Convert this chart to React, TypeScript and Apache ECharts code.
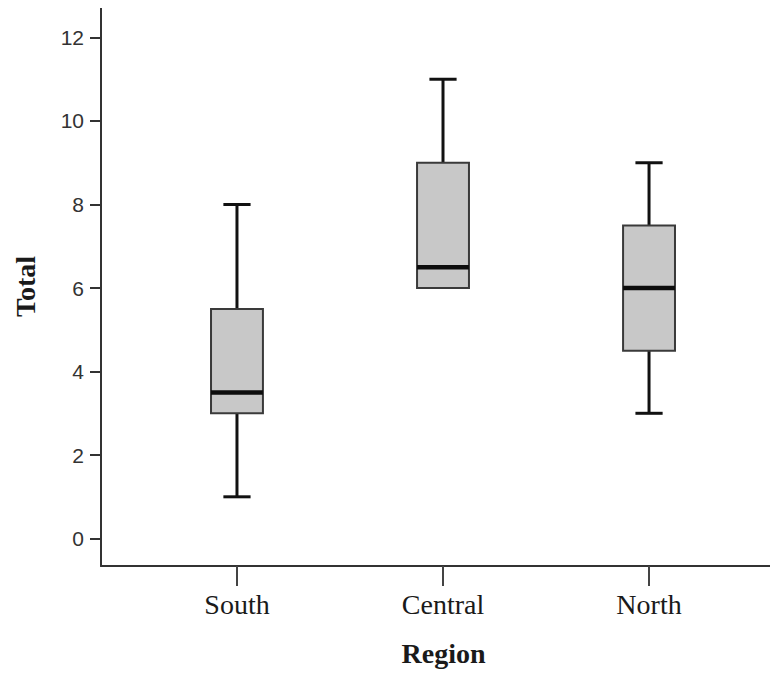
import React, { useEffect, useRef } from "react";
import * as echarts from "echarts";

const categories = ["South", "Central", "North"];
const minValues = [1, 6, 3];
const q1Values = [3, 6, 4.5];
const medianValues = [3.5, 6.5, 6];
const q3Values = [5.5, 9, 7.5];
const maxValues = [8, 11, 9];
const yTickValues = [0, 2, 4, 6, 8, 10, 12];
const xTickValues = [0, 1, 2];

export default function App() {
  const ref = useRef<HTMLDivElement>(null);
  useEffect(() => {
    if (!ref.current) return;
    const chart = echarts.init(ref.current, null, { renderer: "svg" });
    const data = categories.map((_, i) => [
      i,
      minValues[i],
      q1Values[i],
      medianValues[i],
      q3Values[i],
      maxValues[i],
    ]);
    const BOX_W = 0.252;
    const CAP_W = 0.132;
    const xMin = -0.66;
    const xMax = 2.626;
    const option: any = {
      animation: false,
      backgroundColor: "#ffffff",
      grid: { left: 101, top: 7, right: 0, bottom: 111 },
      xAxis: [
        {
          type: "value",
          min: xMin,
          max: xMax,
          splitLine: { show: false },
          axisLine: { show: true, onZero: false, lineStyle: { color: "#333", width: 2 } },
          axisTick: {
            show: true,
            customValues: xTickValues,
            length: 20,
            lineStyle: { color: "#444", width: 2 },
          },
          axisLabel: {
            customValues: xTickValues,
            formatter: (v: number) => categories[Math.round(v)] ?? "",
            fontFamily: "Liberation Serif",
            fontSize: 28,
            color: "#1a1a1a",
            margin: 24,
          },
          name: "Region",
          nameLocation: "middle",
          nameGap: 73,
          nameTextStyle: {
            fontFamily: "Liberation Serif",
            fontWeight: "bold",
            fontSize: 28,
            color: "#1a1a1a",
            padding: [0, 0, 0, 8],
          },
        },
        {
          type: "value",
          position: "top",
          min: xMin,
          max: xMax,
          splitLine: { show: false },
          axisLine: { show: true, onZero: false, lineStyle: { color: "#333", width: 2 } },
          axisTick: { show: false },
          axisLabel: { show: false },
        },
      ],
      yAxis: {
        type: "value",
        min: -0.657,
        max: 12.73,
        splitLine: { show: false },
        axisLine: { show: true, onZero: false, lineStyle: { color: "#333", width: 2 } },
        axisTick: {
          show: true,
          customValues: yTickValues,
          length: 11,
          lineStyle: { color: "#333", width: 2 },
        },
        axisLabel: {
          customValues: yTickValues,
          fontFamily: "Liberation Sans",
          fontSize: 21,
          color: "#333",
          margin: 17,
        },
        name: "Total",
        nameLocation: "middle",
        nameRotate: 90,
        nameGap: 62,
        nameTextStyle: {
          fontFamily: "Liberation Serif",
          fontWeight: "bold",
          fontSize: 28,
          color: "#1a1a1a",
        },
      },
      series: [
        {
          type: "custom",
          xAxisIndex: 0,
          yAxisIndex: 0,
          data,
          renderItem: (params: any, api: any) => {
            const x = api.value(0);
            const lo = api.coord([x, api.value(1)]);
            const q1 = api.coord([x, api.value(2)]);
            const md = api.coord([x, api.value(3)]);
            const q3 = api.coord([x, api.value(4)]);
            const hi = api.coord([x, api.value(5)]);
            const bw = api.size([BOX_W, 0])[0];
            const cw = api.size([CAP_W, 0])[0];
            const cx = q1[0];
            const children: any[] = [];
            const wStyle = { stroke: "#111", lineWidth: 3 };
            if (hi[1] < q3[1] - 0.5) {
              children.push({
                type: "line",
                shape: { x1: cx, y1: q3[1], x2: cx, y2: hi[1] },
                style: wStyle,
              });
              children.push({
                type: "line",
                shape: { x1: cx - cw / 2, y1: hi[1], x2: cx + cw / 2, y2: hi[1] },
                style: wStyle,
              });
            }
            if (lo[1] > q1[1] + 0.5) {
              children.push({
                type: "line",
                shape: { x1: cx, y1: q1[1], x2: cx, y2: lo[1] },
                style: wStyle,
              });
              children.push({
                type: "line",
                shape: { x1: cx - cw / 2, y1: lo[1], x2: cx + cw / 2, y2: lo[1] },
                style: wStyle,
              });
            }
            children.push({
              type: "rect",
              shape: { x: cx - bw / 2, y: q3[1], width: bw, height: q1[1] - q3[1] },
              style: { fill: "#c8c8c8", stroke: "#3a3a3a", lineWidth: 2 },
            });
            children.push({
              type: "line",
              shape: { x1: cx - bw / 2, y1: md[1], x2: cx + bw / 2, y2: md[1] },
              style: { stroke: "#0d0d0d", lineWidth: 4.5 },
            });
            return { type: "group", children };
          },
        },
      ],
    };
    chart.setOption(option);
    return () => chart.dispose();
  }, []);
  return <div ref={ref} style={{ width: 778, height: 677, margin: -8 }} />;
}
